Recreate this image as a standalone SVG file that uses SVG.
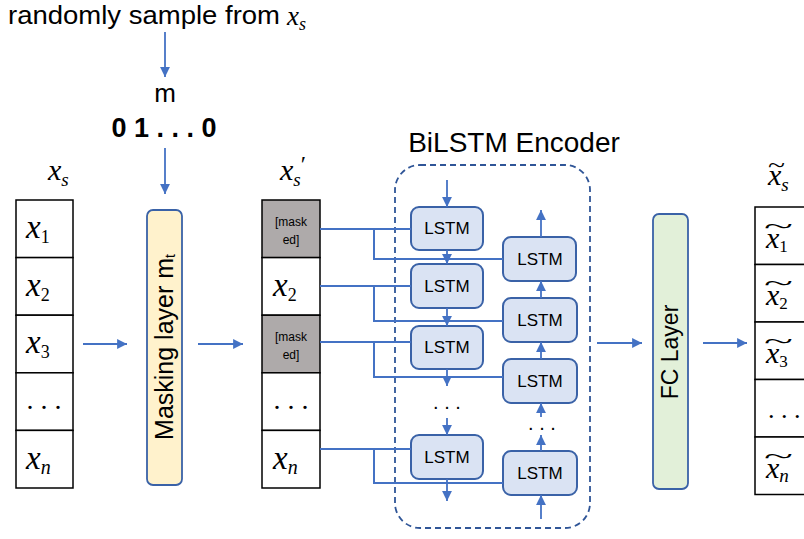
<svg xmlns="http://www.w3.org/2000/svg" width="804" height="539" viewBox="0 0 804 539">
  <style>
    .sans { font-family: "Liberation Sans", Arial, sans-serif; fill: #000; }
    .math { font-family: "Liberation Serif", "DejaVu Serif", serif; font-style: italic; fill: #000; }
    .sub { font-family: "Liberation Serif", "DejaVu Serif", serif; font-style: normal; }
    .cell { fill: #fff; stroke: #000; stroke-width: 1.5; }
    .masked { fill: #AEAAAA; stroke: #000; stroke-width: 1.5; }
    .lstm { fill: #DAE3F3; stroke: #3A62A7; stroke-width: 2; }
    .lstm-t { font-family: "Liberation Sans", Arial, sans-serif; font-size: 17px; text-anchor: middle; fill: #000; }
    .wire { fill: none; stroke: #4472C4; stroke-width: 2; }
    .arrow { fill: none; stroke: #4472C4; stroke-width: 1.8; marker-end: url(#head); }
    .layer { stroke: #3A62A7; stroke-width: 1.8; }
  </style>
  <defs>
    <marker id="head" viewBox="0 0 10 10" refX="10" refY="5" markerWidth="5.5" markerHeight="5.5" orient="auto" markerUnits="strokeWidth">
      <path d="M0,0 L10,5 L0,10 z" fill="#4472C4"/>
    </marker>
  </defs>

  <rect width="804" height="539" fill="#fff"/>

  <!-- sampling caption and mask vector -->
  <g id="sample-caption">
    <text class="sans" x="8" y="24" font-size="25" textLength="272" lengthAdjust="spacingAndGlyphs">randomly sample from</text>
    <text class="math" x="287" y="25" font-size="27">x<tspan class="math" font-size="18" dy="5">s</tspan></text>
  </g>
  <g id="mask-vector">
    <text class="sans" x="165" y="102" font-size="26" text-anchor="middle">m</text>
    <text class="sans" x="164" y="137" font-size="27" font-weight="bold" text-anchor="middle">0 1 . . . 0</text>
  </g>

  <!-- input sequence x_s -->
  <g id="input-seq">
    <text class="math" x="48" y="180" font-size="30">x<tspan class="math" font-size="19" dy="6">s</tspan></text>
    <rect class="cell" x="16" y="200" width="57" height="57.6"/>
    <rect class="cell" x="16" y="257.6" width="57" height="57.6"/>
    <rect class="cell" x="16" y="315.2" width="57" height="57.6"/>
    <rect class="cell" x="16" y="372.8" width="57" height="57.6"/>
    <rect class="cell" x="16" y="430.4" width="57" height="57.6"/>
    <text class="math" x="26" y="238" font-size="33">x<tspan class="sub" font-size="18" dy="5">1</tspan></text>
    <text class="math" x="26" y="296" font-size="33">x<tspan class="sub" font-size="18" dy="5">2</tspan></text>
    <text class="math" x="26" y="353" font-size="33">x<tspan class="sub" font-size="18" dy="5">3</tspan></text>
    <text class="sub" x="44" y="409" font-size="28" text-anchor="middle">. . .</text>
    <text class="math" x="26" y="469" font-size="33">x<tspan class="math" font-size="20" dy="5">n</tspan></text>
  </g>

  <!-- masking layer -->
  <g id="masking-layer">
    <rect class="layer" x="147" y="210" width="35" height="275" rx="6" fill="#FFF2CC"/>
    <text class="sans" font-size="25" transform="translate(173,347) rotate(-90)" text-anchor="middle">Masking layer m<tspan font-size="14" dy="2">t</tspan></text>
  </g>

  <!-- masked sequence x_s' -->
  <g id="masked-seq">
    <text class="math" x="280" y="180" font-size="30">x<tspan class="math" font-size="19" dy="6">s</tspan><tspan class="sub" font-size="24" dy="-14">′</tspan></text>
    <rect class="masked" x="262" y="200" width="58" height="57.6"/>
    <rect class="cell" x="262" y="257.6" width="58" height="57.6"/>
    <rect class="masked" x="262" y="315.2" width="58" height="57.6"/>
    <rect class="cell" x="262" y="372.8" width="58" height="57.6"/>
    <rect class="cell" x="262" y="430.4" width="58" height="57.6"/>
    <text class="sans" font-size="12" fill="#222" text-anchor="middle"><tspan x="291" y="226">[mask</tspan><tspan x="291" y="244">ed]</tspan></text>
    <text class="math" x="273" y="296" font-size="33">x<tspan class="sub" font-size="18" dy="5">2</tspan></text>
    <text class="sans" font-size="12" fill="#222" text-anchor="middle"><tspan x="291" y="341">[mask</tspan><tspan x="291" y="359">ed]</tspan></text>
    <text class="sub" x="291" y="409" font-size="28" text-anchor="middle">. . .</text>
    <text class="math" x="273" y="469" font-size="33">x<tspan class="math" font-size="20" dy="5">n</tspan></text>
  </g>

  <!-- BiLSTM encoder -->
  <g id="bilstm-encoder">
    <text class="sans" x="514" y="152" font-size="28" text-anchor="middle">BiLSTM Encoder</text>
    <rect x="395" y="165" width="195" height="363" rx="25" fill="none" stroke="#2F5597" stroke-width="1.8" stroke-dasharray="6 4"/>
  </g>

  <g id="lstm-forward">
    <rect class="lstm" x="411" y="207" width="72" height="43" rx="8"/>
    <text class="lstm-t" x="447" y="234">LSTM</text>
    <rect class="lstm" x="411" y="264" width="72" height="44" rx="8"/>
    <text class="lstm-t" x="447" y="292">LSTM</text>
    <rect class="lstm" x="411" y="326" width="72" height="43" rx="8"/>
    <text class="lstm-t" x="447" y="353">LSTM</text>
    <rect class="lstm" x="411" y="435" width="72" height="44" rx="8"/>
    <text class="lstm-t" x="447" y="463">LSTM</text>
    <text class="sans" x="447" y="409" font-size="20" text-anchor="middle">. . .</text>
  </g>

  <g id="lstm-backward">
    <rect class="lstm" x="503" y="237" width="73" height="44" rx="8"/>
    <text class="lstm-t" x="540" y="265">LSTM</text>
    <rect class="lstm" x="503" y="298" width="74" height="44" rx="8"/>
    <text class="lstm-t" x="540" y="326">LSTM</text>
    <rect class="lstm" x="503" y="359" width="74" height="44" rx="8"/>
    <text class="lstm-t" x="540" y="387">LSTM</text>
    <rect class="lstm" x="503" y="451" width="74" height="44" rx="8"/>
    <text class="lstm-t" x="540" y="479">LSTM</text>
    <text class="sans" x="542" y="430" font-size="20" text-anchor="middle">. . .</text>
  </g>

  <!-- FC layer -->
  <g id="fc-layer">
    <rect class="layer" x="653" y="214" width="35" height="275" rx="6" fill="#E2F0D9"/>
    <text class="sans" font-size="23" transform="translate(678,352) rotate(-90)" text-anchor="middle">FC Layer</text>
  </g>

  <!-- reconstructed sequence -->
  <g id="output-seq">
    <text class="math" x="768" y="185" font-size="30">x<tspan class="math" font-size="19" dy="6">s</tspan></text>
    <text class="sub" x="768" y="172" font-size="22" textLength="17" lengthAdjust="spacingAndGlyphs">~</text>
    <rect class="cell" x="755" y="207" width="60" height="57.5"/>
    <rect class="cell" x="755" y="264.5" width="60" height="57.5"/>
    <rect class="cell" x="755" y="322" width="60" height="57.5"/>
    <rect class="cell" x="755" y="379.5" width="60" height="57.5"/>
    <rect class="cell" x="755" y="437" width="60" height="57.5"/>
    <g class="math" font-size="30">
      <text x="766" y="248">x<tspan class="sub" font-size="17" dy="4">1</tspan></text>
      <text x="766" y="305">x<tspan class="sub" font-size="17" dy="4">2</tspan></text>
      <text x="766" y="363">x<tspan class="sub" font-size="17" dy="4">3</tspan></text>
      <text x="766" y="478">x<tspan class="math" font-size="19" dy="4">n</tspan></text>
    </g>
    <g class="sub" font-size="22">
      <text x="764" y="233" textLength="29" lengthAdjust="spacingAndGlyphs">~</text>
      <text x="764" y="290" textLength="29" lengthAdjust="spacingAndGlyphs">~</text>
      <text x="764" y="348" textLength="29" lengthAdjust="spacingAndGlyphs">~</text>
      <text x="764" y="463" textLength="29" lengthAdjust="spacingAndGlyphs">~</text>
    </g>
    <text class="sub" x="768" y="418" font-size="26">. . .</text>
  </g>

  <!-- connectors -->
  <g id="connectors">
    <line class="arrow" x1="165" y1="32" x2="165" y2="77"/>
    <line class="arrow" x1="165" y1="148" x2="165" y2="194"/>
    <line class="arrow" x1="83" y1="344" x2="127" y2="344"/>
    <line class="arrow" x1="198" y1="344" x2="243" y2="344"/>
    <line class="arrow" x1="597" y1="343" x2="642" y2="343"/>
    <line class="arrow" x1="703" y1="343" x2="747" y2="343"/>

    <!-- input fan-out to both directions -->
    <path class="wire" d="M320,229 H411 M374,229 V259 H503"/>
    <path class="wire" d="M320,286 H411 M374,286 V321 H503"/>
    <path class="wire" d="M320,342 H411 M374,342 V377 H503"/>
    <path class="wire" d="M320,449 H411 M374,449 V483 H503"/>

    <!-- forward chain -->
    <line class="arrow" x1="447" y1="180" x2="447" y2="207"/>
    <line class="arrow" x1="447" y1="250" x2="447" y2="264"/>
    <line class="arrow" x1="447" y1="308" x2="447" y2="326"/>
    <line class="arrow" x1="447" y1="369" x2="447" y2="386"/>
    <line class="arrow" x1="447" y1="418" x2="447" y2="435"/>
    <line class="arrow" x1="447" y1="479" x2="447" y2="501"/>

    <!-- backward chain -->
    <line class="arrow" x1="541" y1="519" x2="541" y2="495"/>
    <line class="arrow" x1="541" y1="451" x2="541" y2="435"/>
    <line class="arrow" x1="541" y1="417" x2="541" y2="403"/>
    <line class="arrow" x1="541" y1="359" x2="541" y2="342"/>
    <line class="arrow" x1="541" y1="298" x2="541" y2="281"/>
    <line class="arrow" x1="541" y1="237" x2="541" y2="210"/>
  </g>
</svg>
